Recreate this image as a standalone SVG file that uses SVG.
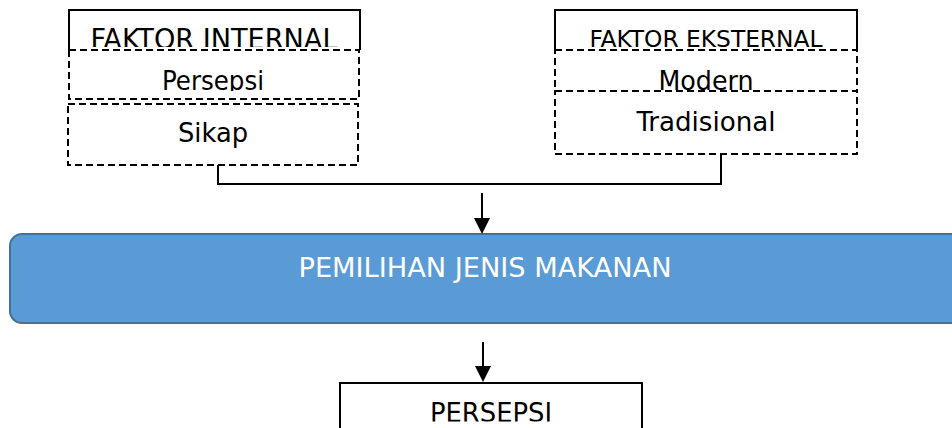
<svg xmlns="http://www.w3.org/2000/svg" width="952" height="428" viewBox="0 0 952 428">
<style>
.solid{fill:none;stroke:#000;stroke-width:2}
.dash{fill:none;stroke:#000;stroke-width:2;stroke-dasharray:7 4}
.t{font-family:"DejaVu Sans Condensed","DejaVu Sans",sans-serif;font-size:27px;fill:#000;text-anchor:middle}
.w{fill:#fff}
.conn{fill:none;stroke:#000;stroke-width:2}
</style>
<defs>
<clipPath id="cInt"><rect x="69" y="10" width="291" height="37"/></clipPath>
<clipPath id="cPer"><rect x="69" y="50" width="291" height="41"/></clipPath>
<clipPath id="cEks"><rect x="555" y="10" width="302" height="37.5"/></clipPath>
<clipPath id="cMod"><rect x="555" y="50" width="302" height="41"/></clipPath>
<clipPath id="cPs"><rect x="340" y="383" width="302" height="38.5"/></clipPath>
</defs>
<rect width="952" height="428" fill="#fff"/>
<g id="faktor-internal">
<path class="solid" d="M69,50 V10 H360 V50"/>
<text class="t" x="214" y="49" style="font-size:28px" textLength="247" lengthAdjust="spacingAndGlyphs" clip-path="url(#cInt)">FAKTOR INTERNAL</text>
</g>
<g id="persepsi-int">
<rect class="dash" x="69" y="50" width="290" height="49"/>
<text class="t" x="213" y="90" textLength="102" lengthAdjust="spacingAndGlyphs" clip-path="url(#cPer)">Persepsi</text>
</g>
<g id="sikap">
<rect class="dash" x="68" y="104" width="290" height="61"/>
<text class="t" x="213" y="142" textLength="70" lengthAdjust="spacingAndGlyphs">Sikap</text>
</g>
<g id="faktor-eksternal">
<path class="solid" d="M555,50 V10 H857 V50"/>
<text class="t" x="706" y="47" style="font-size:23px" textLength="233" lengthAdjust="spacingAndGlyphs" clip-path="url(#cEks)">FAKTOR EKSTERNAL</text>
</g>
<g id="modern">
<rect class="dash" x="555" y="50" width="302" height="41"/>
<text class="t" x="706" y="90" textLength="95" lengthAdjust="spacingAndGlyphs" clip-path="url(#cMod)">Modern</text>
</g>
<g id="tradisional">
<rect class="dash" x="555" y="91" width="302" height="63"/>
<text class="t" x="706" y="131" textLength="139" lengthAdjust="spacingAndGlyphs">Tradisional</text>
</g>
<g id="pemilihan">
<rect x="10" y="234" width="960" height="89" rx="12" fill="#5B9BD5" stroke="#41719C" stroke-width="2"/>
<text class="t w" x="485" y="277" textLength="373" lengthAdjust="spacingAndGlyphs">PEMILIHAN JENIS MAKANAN</text>
</g>
<g id="persepsi">
<rect class="solid" x="340" y="383" width="302" height="60"/>
<text class="t" x="491" y="422" textLength="122" lengthAdjust="spacingAndGlyphs" clip-path="url(#cPs)">PERSEPSI</text>
</g>
<g id="connectors">
<path class="conn" d="M218,165 V184 H721 V154"/>
<line class="conn" x1="482" y1="193" x2="482" y2="220"/>
<polygon points="474,218 490,218 482,234" fill="#000"/>
<line class="conn" x1="483" y1="342" x2="483" y2="368"/>
<polygon points="475,366 491,366 483,382" fill="#000"/>
</g>
</svg>
